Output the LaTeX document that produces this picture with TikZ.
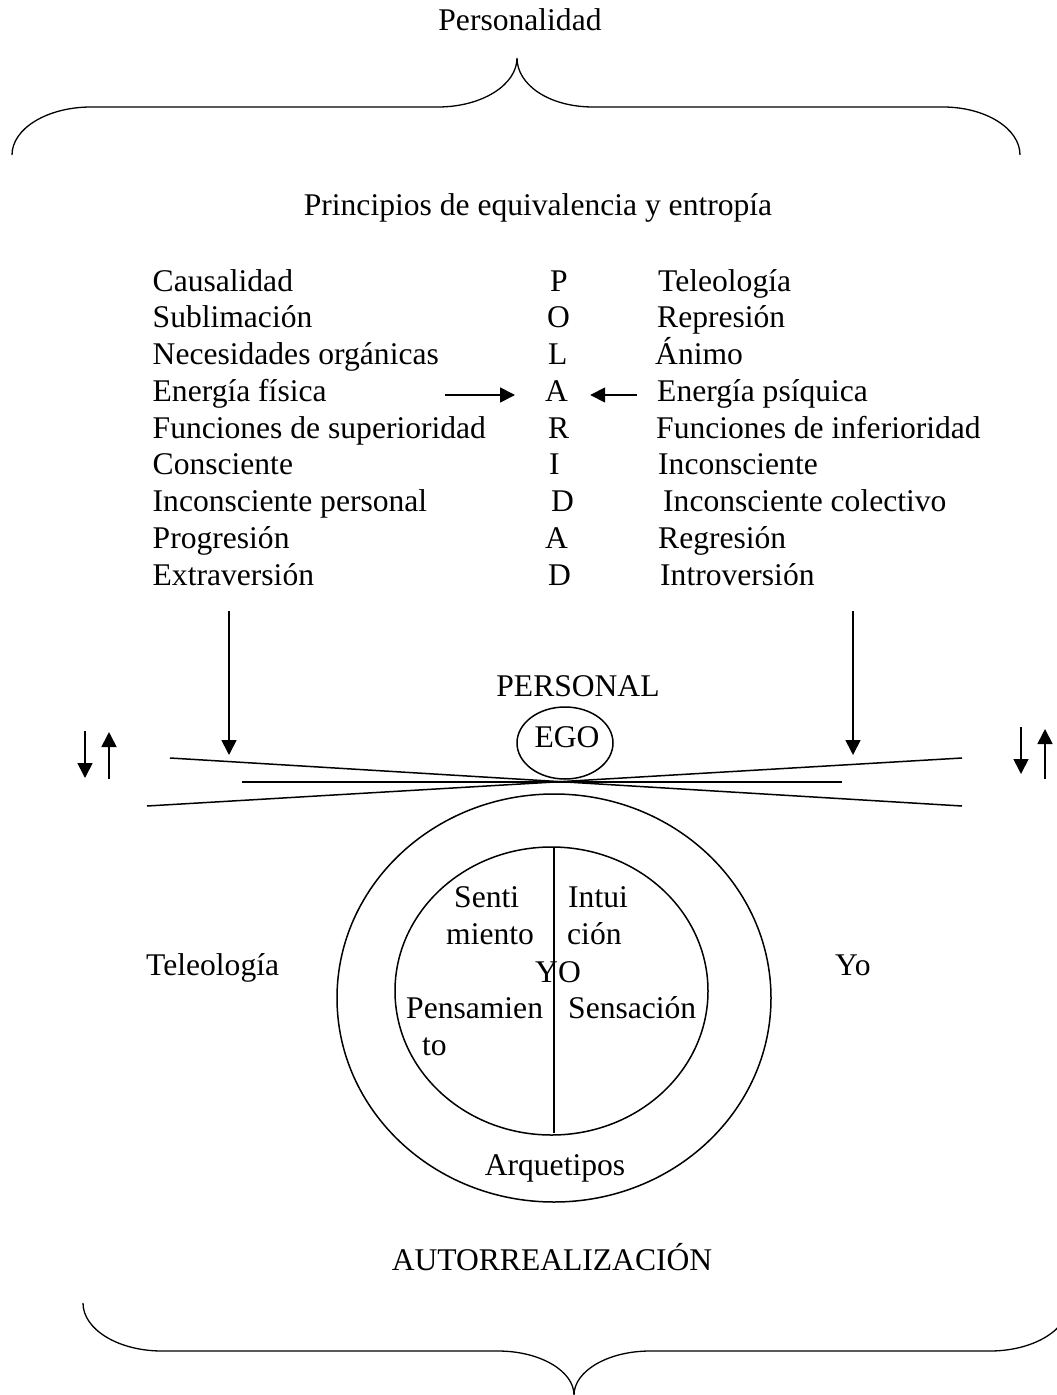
\documentclass[tikz,border=0pt]{standalone}
\usepackage{fontspec}
\setmainfont{Liberation Serif}
\usetikzlibrary{arrows.meta,shapes.geometric}
\begin{document}
\begin{tikzpicture}[x=1bp,y=-1bp,
  txt/.style={inner sep=0pt, anchor=base west, font=\fontsize{31.7}{36}\selectfont},
  ctxt/.style={inner sep=0pt, anchor=base, font=\fontsize{31.7}{36}\selectfont},
  brace/.style={line width=1.3bp},
  arr/.style={line width=1.7bp, -{Triangle[length=15bp,width=15bp]}},
  outline/.style={line width=1.5bp}]
\useasboundingbox (0,0) rectangle (1056,1395);
% top brace
\node[ctxt] (pers) at (520,31) {Personalidad};
\draw[brace] (12,155) .. controls (12,128.5) and (47.4,107) .. (91,107) -- (438,107)
  .. controls (481.6,107) and (517,85) .. (517,58)
  .. controls (517,85) and (549.4,107) .. (593,107) -- (943,107)
  .. controls (985.5,107) and (1020,128.5) .. (1020,155);
\node[ctxt] (princ) at (538,216) {Principios de equivalencia y entropía};
% left column
\node[txt] (l1) at (152.5,291) {Causalidad};
\node[txt] (l2) at (152.5,327.75) {Sublimación};
\node[txt] (l3) at (152.5,364.5) {Necesidades orgánicas};
\node[txt] (l4) at (152.5,401.25) {Energía física};
\node[txt] (l5) at (152.5,438) {Funciones de superioridad};
\node[txt] (l6) at (152.5,474.75) {Consciente};
\node[txt] (l7) at (152.5,511.5) {Inconsciente personal};
\node[txt] (l8) at (152.5,548.25) {Progresión};
\node[txt] (l9) at (152.5,585) {Extraversión};
% middle column
\node[txt] (m1) at (550,291) {P};
\node[txt] (m2) at (547,327.75) {O};
\node[txt] (m3) at (548,364.5) {L};
\node[txt] (m4) at (545,401.25) {A};
\node[txt] (m5) at (548,438) {R};
\node[txt] (m6) at (549,474.75) {I};
\node[txt] (m7) at (551,511.5) {D};
\node[txt] (m8) at (545,548.25) {A};
\node[txt] (m9) at (548,585) {D};
% right column
\node[txt] (r1) at (658,291) {Teleología};
\node[txt] (r2) at (657,327.75) {Represión};
\node[txt] (r3) at (655,364.5) {Ánimo};
\node[txt] (r4) at (657,401.25) {Energía psíquica};
\node[txt] (r5) at (656,438) {Funciones de inferioridad};
\node[txt] (r6) at (658,474.75) {Inconsciente};
\node[txt] (r7) at (663,511.5) {Inconsciente colectivo};
\node[txt] (r8) at (658,548.25) {Regresión};
\node[txt] (r9) at (660,585) {Introversión};
% horizontal arrows into A
\coordinate (la) at (445,395);
\coordinate (ra) at (637,395);
\draw[arr] (la) -- ([xshift=-30bp]m4.base west |- la);
\draw[arr] (ra) -- ([xshift=22bp]m4.base east |- ra);
% vertical arrows
\coordinate (dl0) at (229,611); \coordinate (dl1) at (229,755);
\coordinate (dr0) at (853,611); \coordinate (dr1) at (853,755);
\draw[arr] (dl0) -- (dl1);
\draw[arr] (dr0) -- (dr1);
% PERSONAL / EGO
\node[ctxt] (personal) at (578,696) {PERSONAL};
\node[draw, outline, ellipse, minimum width=96bp, minimum height=72bp, inner sep=0pt] (ego) at (565,743) {};
\node[ctxt] (egot) at (567,747) {EGO};
% crossing lines
\coordinate (x1a) at (170,758); \coordinate (x1b) at (962,806);
\coordinate (x2a) at (147,806); \coordinate (x2b) at (962,758);
\coordinate (ha) at (242,782); \coordinate (hb) at (842,782);
\draw[outline] (x1a) -- (x1b);
\draw[outline] (x2a) -- (x2b);
\draw[outline] (ha) -- (hb);
% small up/down arrows
\coordinate (sl1) at (85,731); \coordinate (sl2) at (85,778);
\coordinate (sl3) at (109,779); \coordinate (sl4) at (109,732);
\draw[arr] (sl1) -- (sl2);
\draw[arr] (sl3) -- (sl4);
\coordinate (sr1) at (1021,727); \coordinate (sr2) at (1021,774);
\coordinate (sr3) at (1045,779); \coordinate (sr4) at (1045,729);
\draw[arr] (sr1) -- (sr2);
\draw[arr] (sr3) -- (sr4);
% side labels
\node[txt] (tel) at (146,975) {Teleología};
\node[txt] (yo) at (835,975) {Yo};
% circles
\node[draw, outline, ellipse, minimum width=434bp, minimum height=408bp, inner sep=0pt] (outer) at (554,998) {};
\node[draw, outline, ellipse, minimum width=313bp, minimum height=288bp, inner sep=0pt] (inner) at (551.5,991) {};
\coordinate (vt) at (554,847); \coordinate (vb) at (554,1133);
\draw[outline] (vt) -- (vb);
\node[txt] (s1) at (454,907) {Senti};
\node[txt] (s2) at (446,944) {miento};
\node[txt] (i1) at (568,907) {Intui};
\node[txt] (i2) at (567,944) {ción};
\node[txt] (yot) at (535,982) {YO};
\node[txt] (p1) at (406,1018) {Pensamien};
\node[txt] (p2) at (422,1055) {to};
\node[txt] (sen) at (568,1018) {Sensación};
\node[ctxt] (arq) at (555,1175) {Arquetipos};
\node[ctxt] (auto) at (552,1270) {AUTORREALIZACIÓN};
% bottom brace
\draw[brace] (83,1303) .. controls (83,1329.5) and (118.4,1351) .. (162,1351) -- (498,1351)
  .. controls (540,1351) and (574,1371) .. (574,1395)
  .. controls (574,1371) and (608,1351) .. (650,1351) -- (990,1351)
  .. controls (1033.6,1351) and (1069,1329.5) .. (1069,1303);
\end{tikzpicture}
\end{document}
